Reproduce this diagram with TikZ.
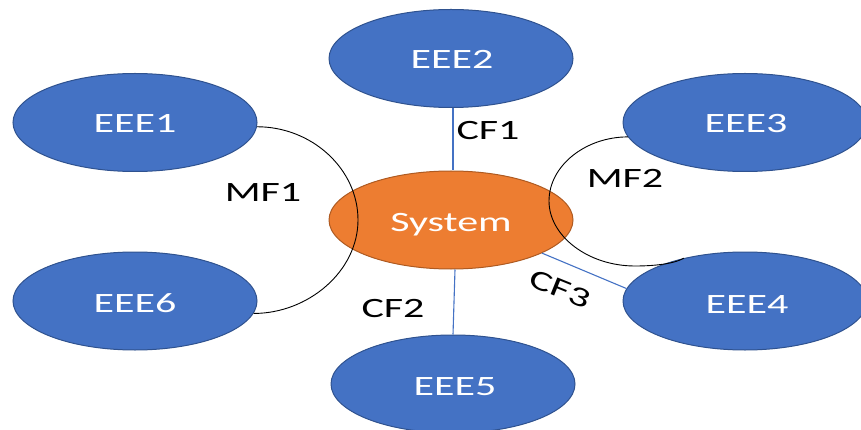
\documentclass[tikz,border=0pt]{standalone}
\usepackage{fontspec}
\setmainfont{Carlito}[FakeStretch=1.5]
\usetikzlibrary{shapes.geometric}
\definecolor{entblue}{HTML}{4472C4}
\definecolor{entedge}{HTML}{2F528F}
\definecolor{sysorange}{HTML}{ED7D31}
\definecolor{sysedge}{HTML}{AE5A21}
\begin{document}
\begin{tikzpicture}[x=1pt,y=-1pt,
  blob/.style={ellipse, minimum width=244pt, minimum height=98pt, inner sep=0pt, line width=1pt},
  entity/.style={blob, fill=entblue, draw=entedge},
  sysblob/.style={blob, fill=sysorange, draw=sysedge},
  inner/.style={text=white, font=\fontsize{28}{32}\selectfont, anchor=base, inner sep=0pt},
  flowlabel/.style={text=black, font=\fontsize{28}{32}\selectfont, anchor=base, inner sep=0pt},
  cflow/.style={draw=entblue, line width=1.1pt},
  mflow/.style={draw=black, line width=0.9pt}]
\useasboundingbox (0,0) rectangle (861,430);
\clip (0,0) rectangle (861,430);

% entities and the system
\node[entity]  (e1)  at (135,122.5) {};
\node[entity]  (e2)  at (451,58.5) {};
\node[entity]  (e3)  at (745,122.5) {};
\node[entity]  (e4)  at (745,301) {};
\node[entity]  (e5)  at (453,384) {};
\node[entity]  (e6)  at (135,301) {};
\node[sysblob] (sys) at (451,220) {};

\node[inner] (t1) at (135,133) {EEE1};
\node[inner] (t2) at (452,69) {EEE2};
\node[inner] (t3) at (746,133) {EEE3};
\node[inner] (t4) at (747,313) {EEE4};
\node[inner] (t5) at (455,395) {EEE5};
\node[inner] (t6) at (135,312) {EEE6};
\node[inner] (ts) at (451,232) {System};

% control flows
\draw[cflow] ([xshift=2pt]e2.south) -- ([xshift=2pt]sys.north);
\draw[cflow] ([xshift=4pt]sys.south) -- ([xshift=0pt]e5.north);
\draw[cflow] (sys.-20) -- (e4.174);

% material flows
\coordinate (mf1r) at (358,220);
\draw[mflow] (e1.-2) .. controls +(55,0) and +(0,-51) .. (mf1r)
                     .. controls +(0,51) and +(55,0) .. (e6.-6);
\coordinate (mf2l) at (549,201);
\coordinate (mf2b) at (635,266);
\draw[mflow] (e3.187) .. controls (585,137) and (549,166) .. (mf2l)
                      .. controls (549,236) and (588,266) .. (mf2b)
                      .. controls (658,266) and (676,263) .. (e4.145);

% flow labels
\node[flowlabel] (lcf1) at (488,140) {CF1};
\node[flowlabel] (lmf1) at (263,202) {MF1};
\node[flowlabel] (lmf2) at (625,188) {MF2};
\node[flowlabel] (lcf2) at (393,317) {CF2};
\node[flowlabel, anchor=center, rotate=-22] (lcf3) at (560,289) {CF3};
\end{tikzpicture}
\end{document}
